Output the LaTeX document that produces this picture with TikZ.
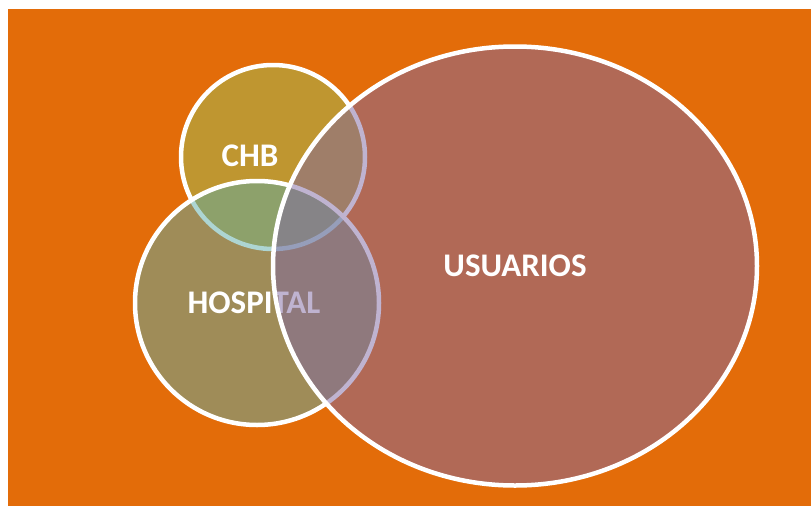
\documentclass[tikz,border=0pt]{standalone}
\usepackage{fontspec}
\setsansfont{Carlito}
\usepackage{xcolor}
\usepackage{tikz}
\usetikzlibrary{shapes,positioning}

\definecolor{bgorange}{RGB}{227,108,9}
\definecolor{chbgreen}{RGB}{157,192,87}
\definecolor{hospteal}{RGB}{93,172,167}
\definecolor{usrpurple}{RGB}{129,104,163}

\begin{document}
\begin{tikzpicture}[
    x=1pt, y=-1pt,
    set/.style={draw=white, line width=4.5pt, fill opacity=0.5, text opacity=1, inner sep=0pt},
    setlabel/.style={text=white, font=\sffamily\bfseries\fontsize{33}{36}\selectfont}
]
    \useasboundingbox (0,0) rectangle (811,506);
    \fill[bgorange] (8,9) rectangle (811,506);

    % the three sets, back to front
    \node[set, circle, fill=chbgreen, minimum size=184pt] (chb) at (273,157) {};
    \node[setlabel] (chblabel) at (250,156) {CHB};

    \node[set, circle, fill=hospteal, minimum size=244pt] (hospital) at (257,303) {};
    \node[setlabel] (hosplabel) at (254,303) {HOSPITAL};

    \node[set, ellipse, fill=usrpurple, minimum width=484pt, minimum height=439pt] (usuarios) at (515,266) {};
    \node[setlabel] (usrlabel) at (515,266) {USUARIOS};
\end{tikzpicture}
\end{document}
